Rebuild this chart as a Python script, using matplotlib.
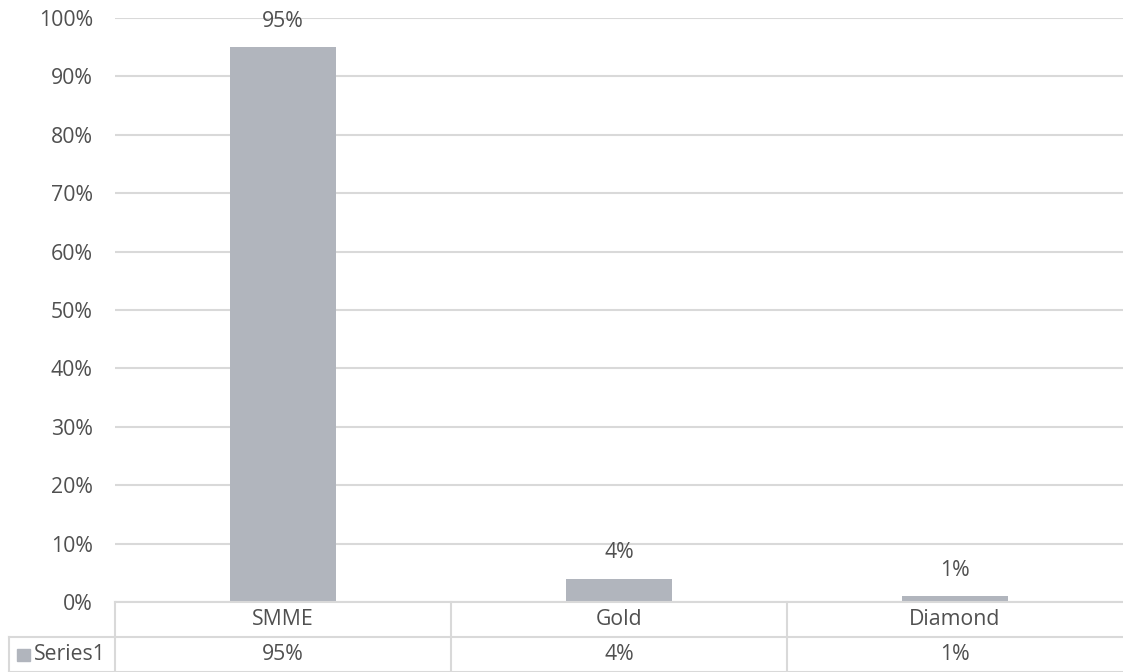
import matplotlib
matplotlib.use("Agg")
import matplotlib.pyplot as plt
from matplotlib.patches import Rectangle
from matplotlib.lines import Line2D
import matplotlib.transforms as mtransforms

categories = ["SMME", "Gold", "Diamond"]
values = [95, 4, 1]
value_labels = ["95%", "4%", "1%"]
series_name = "Series1"
yticks = [0, 10, 20, 30, 40, 50, 60, 70, 80, 90, 100]

BAR = "#b1b5bd"
GRID = "#d9d9d9"
TXT = "#505050"
FS = 15.3

plt.rcParams['font.family'] = ['Open Sans', 'DejaVu Sans']

W, H = 1123, 672
fig = plt.figure(figsize=(W / 100, H / 100), dpi=100)
ax = fig.add_axes([115 / W, (H - 602) / H, (W - 115) / W, 584 / H])

x = list(range(len(categories)))
ax.bar(x, values, width=0.315, color=BAR, zorder=3)
ax.set_xlim(-0.5, len(categories) - 0.5)
ax.set_ylim(0, 100)
ax.set_yticks(yticks)
ax.set_yticklabels([f"{t}%" for t in yticks], color=TXT, fontsize=FS)
ax.tick_params(axis='y', length=0, pad=16)
ax.tick_params(axis='x', length=0, labelbottom=False)
ax.grid(axis='y', color=GRID, linewidth=1.5, zorder=0)
for s in ax.spines.values():
    s.set_visible(False)

for xi, v, lab in zip(x, values, value_labels):
    ax.annotate(lab, (xi, v), xytext=(0, 18.5), textcoords='offset points',
                ha='center', va='center', fontsize=FS, color=TXT)

# data table
tr = mtransforms.blended_transform_factory(ax.transData, ax.transAxes)
row_h = 35 / 584
y0, y1, y2 = 0, -row_h, -2 * row_h
left_cell = -0.5 - 106 / 336
xmax = len(categories) - 0.5
lw = 1.5
lines = [
    ([-0.5, xmax], [y0, y0]),
    ([left_cell, xmax], [y1, y1]),
    ([left_cell, left_cell], [y1, y2]),
    ([left_cell, xmax], [y2, y2]),
]
for i in range(len(categories)):
    xb = i - 0.5
    lines.append(([xb, xb], [y0, y2]))
for xs, ys in lines:
    ax.add_line(Line2D(xs, ys, color=GRID, linewidth=lw, transform=tr, clip_on=False, zorder=4))

for xi, c, lab in zip(x, categories, value_labels):
    ax.text(xi, (y0 + y1) / 2, c, transform=tr, ha='center', va='center', fontsize=FS, color=TXT, clip_on=False)
    ax.text(xi, (y1 + y2) / 2, lab, transform=tr, ha='center', va='center', fontsize=FS, color=TXT, clip_on=False)

# legend key in table
fig.patches.append(Rectangle((17 / W, (H - 661) / H), 13 / W, 12 / H, transform=fig.transFigure,
                             color=BAR, zorder=5))
fig.text(34 / W, (H - 654.5) / H, series_name, ha='left', va='center', fontsize=FS, color=TXT)

fig.savefig("out.png", dpi=100)
